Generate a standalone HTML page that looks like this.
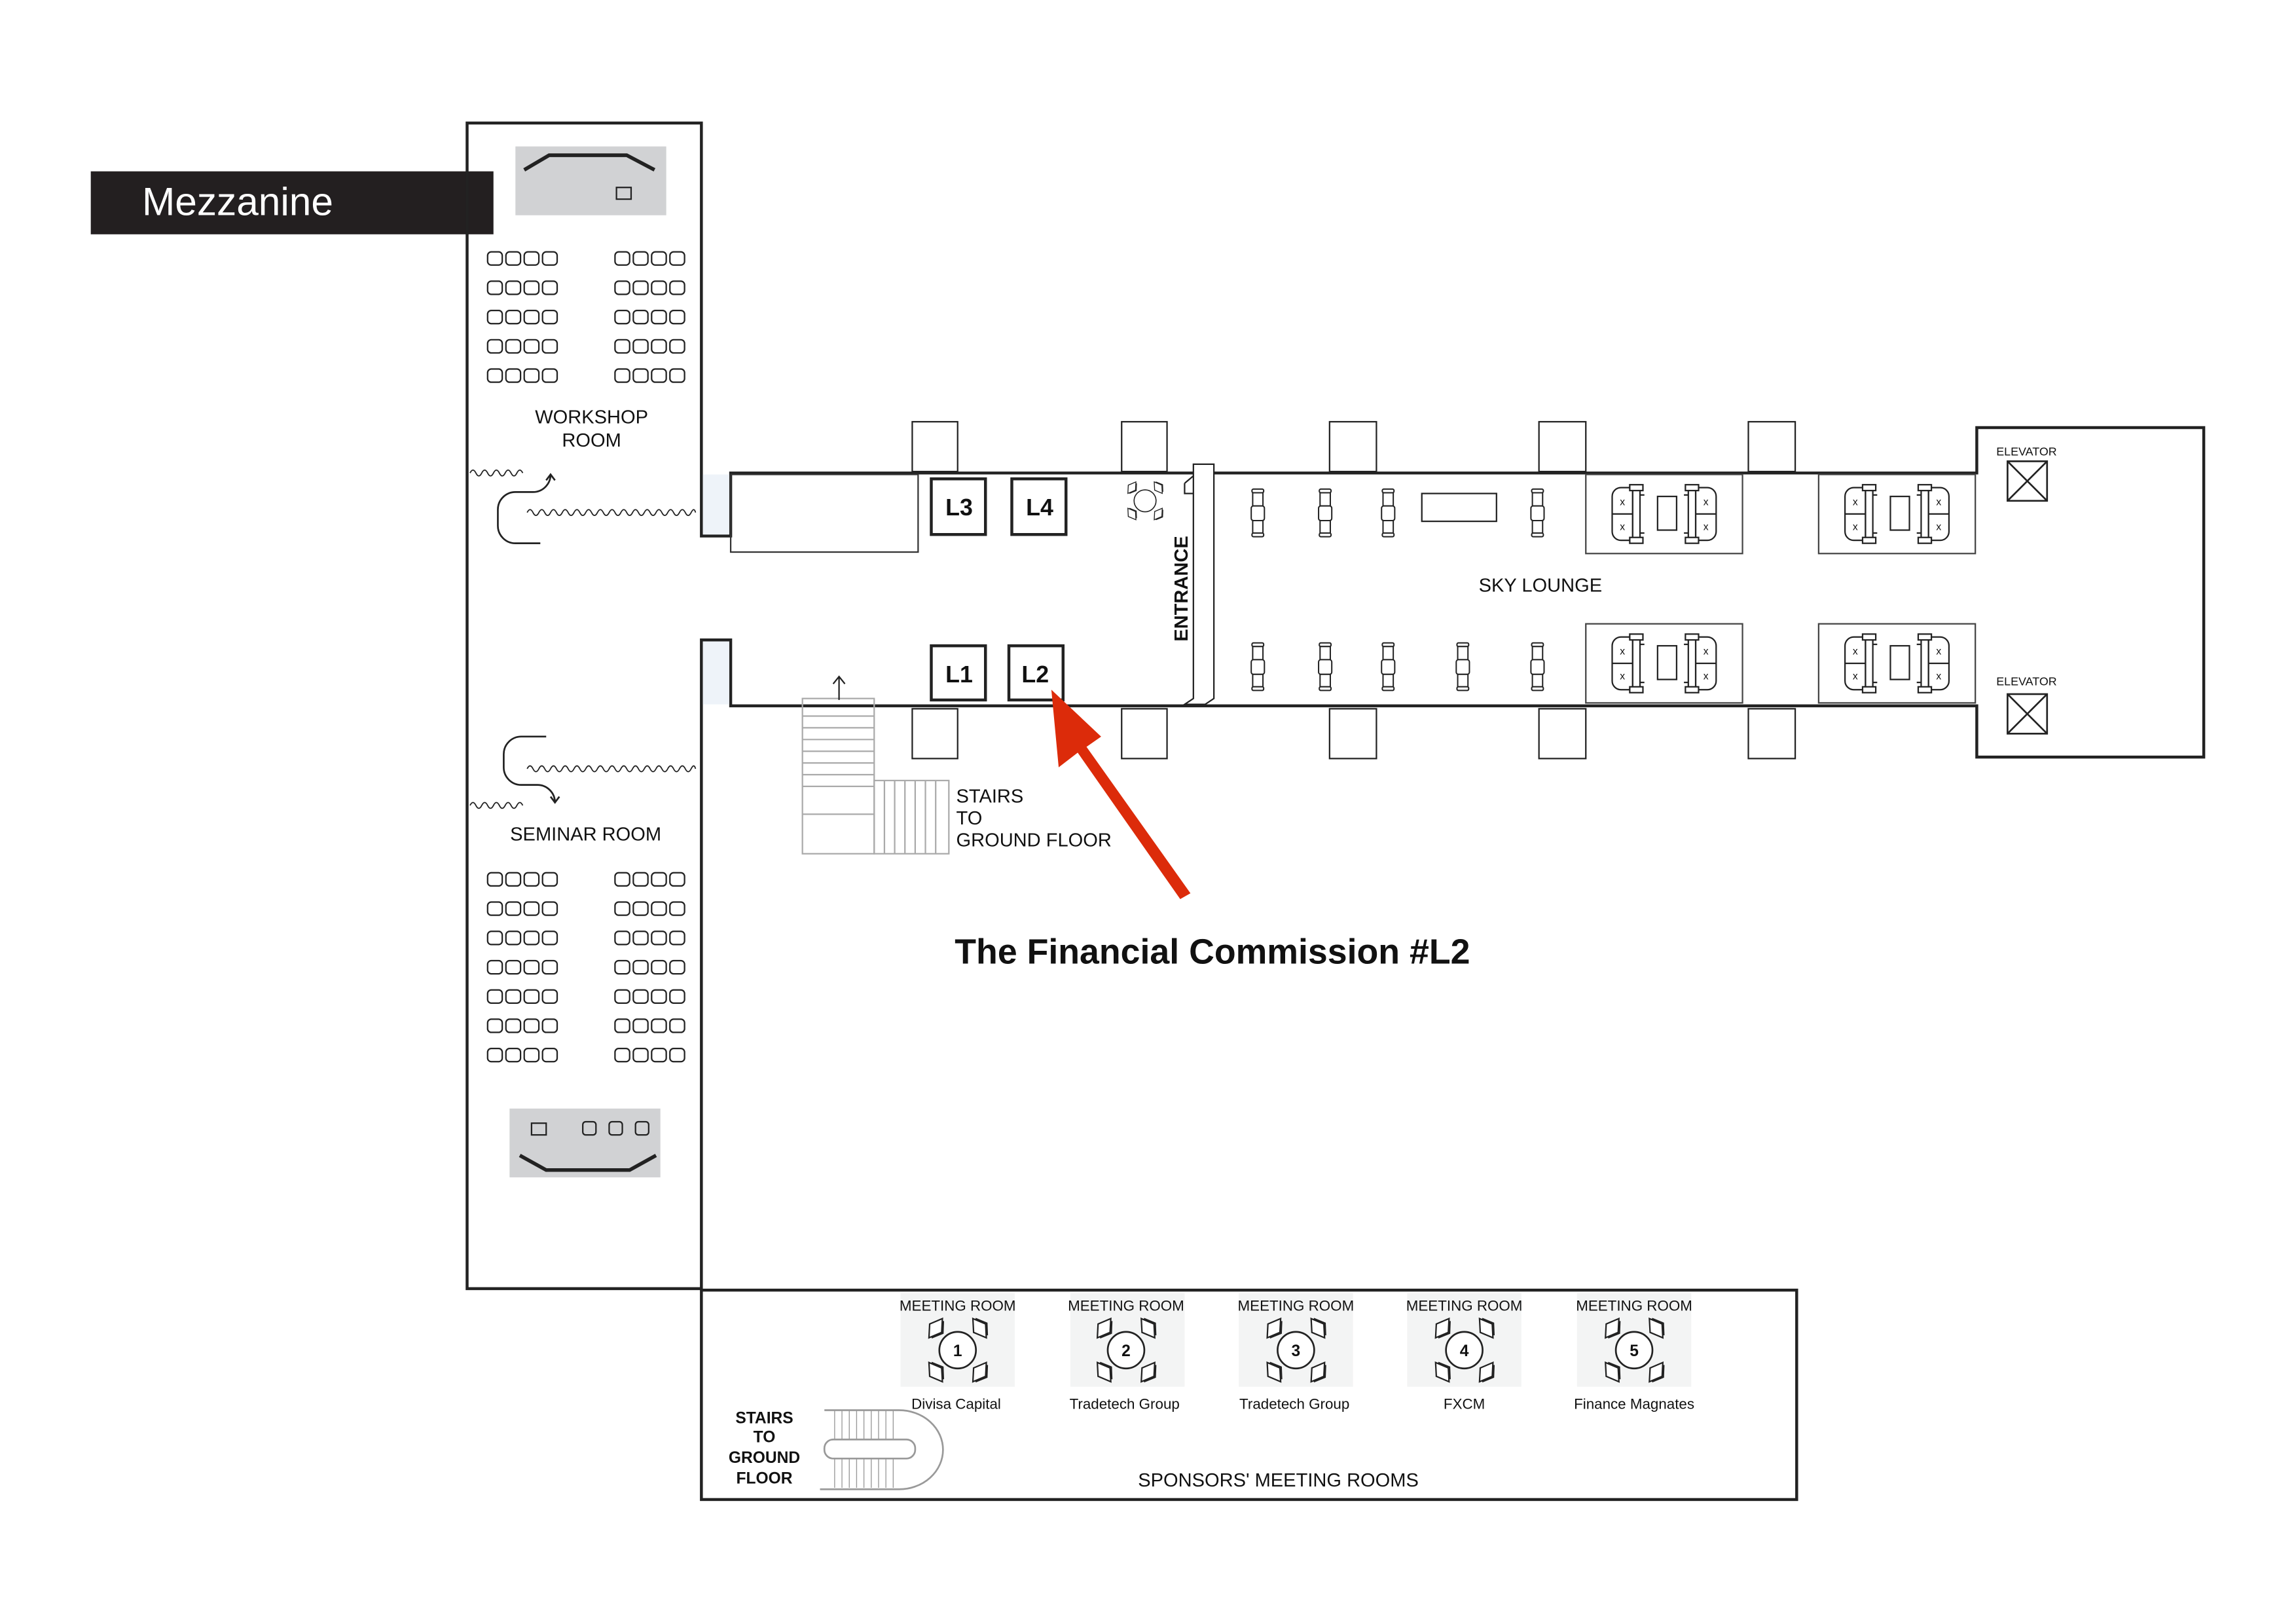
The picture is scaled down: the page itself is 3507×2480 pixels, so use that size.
<!DOCTYPE html>
<html><head><meta charset="utf-8"><style>
html,body{margin:0;padding:0;background:#fff;}
svg{display:block;}
text{font-family:"Liberation Sans",sans-serif;fill:#111;}
</style></head><body>
<svg width="3507" height="2480" viewBox="0 0 1568 1109" preserveAspectRatio="none" xmlns="http://www.w3.org/2000/svg">
<defs>
<g id="row4" fill="none" stroke="#222" stroke-width="1">
<rect x="0" y="0" width="10" height="9" rx="2.5"/><rect x="12.5" y="0" width="10" height="9" rx="2.5"/><rect x="25" y="0" width="10" height="9" rx="2.5"/><rect x="37.5" y="0" width="10" height="9" rx="2.5"/>
</g>
<g id="grid" >
<use href="#row4" x="0"/><use href="#row4" x="87"/>
</g>
<g id="lchair" fill="#fff" stroke="#222" stroke-width="0.9">
<rect x="-4" y="0" width="8" height="2.5" rx="1"/><rect x="-3.5" y="2.5" width="7" height="9"/><rect x="-4.5" y="11.5" width="9" height="10" rx="1.5"/><rect x="-3.5" y="21.5" width="7" height="8.5"/><rect x="-4" y="30" width="8" height="2.5" rx="1"/>
</g>
<g id="booth" fill="none" stroke="#222" stroke-width="1">
<rect x="0" y="0" width="107" height="54" stroke="#444"/>
<path d="M32,9 h-8 a6,6 0 0 0 -6,6 v24 a6,6 0 0 0 6,6 h8 z"/><line x1="18" y1="27" x2="32" y2="27"/>
<rect x="32" y="9" width="5" height="36" fill="#fff"/><rect x="30" y="7" width="9" height="4" fill="#fff"/><rect x="30" y="43" width="9" height="4" fill="#fff"/>
<path d="M37,14 h3 M37,40 h3"/>
<rect x="49" y="15" width="13" height="23"/>
<path d="M75,9 h8 a6,6 0 0 1 6,6 v24 a6,6 0 0 1 -6,6 h-8 z"/><line x1="75" y1="27" x2="89" y2="27"/>
<rect x="70" y="9" width="5" height="36" fill="#fff"/><rect x="68" y="7" width="9" height="4" fill="#fff"/><rect x="68" y="43" width="9" height="4" fill="#fff"/>
<path d="M67,14 h3 M67,40 h3"/>
<text x="25" y="21" font-size="7" text-anchor="middle" stroke="none">x</text><text x="25" y="38" font-size="7" text-anchor="middle" stroke="none">x</text>
<text x="82" y="21" font-size="7" text-anchor="middle" stroke="none">x</text><text x="82" y="38" font-size="7" text-anchor="middle" stroke="none">x</text>
</g>
<g id="dch" fill="#fff" stroke="#222" stroke-width="1">
<path d="M0,-8 L5,0 L0,8 L-5,0Z"/><path d="M1.5,-7 L6,0 L1.5,7" fill="none"/>
</g>
<g id="tbl">
<use href="#dch" transform="translate(-15,-15) rotate(35)"/><use href="#dch" transform="translate(15,-15) rotate(-35)"/>
<use href="#dch" transform="translate(-15,15) rotate(-35)"/><use href="#dch" transform="translate(15,15) rotate(35)"/>
<circle cx="0" cy="0" r="12.5" fill="#fff" stroke="#222" stroke-width="1.2"/>
</g>
</defs>

<!-- Mezzanine label -->
<rect x="62" y="117" width="275" height="43" fill="#231f20"/>
<text x="97" y="147" font-size="27" style="fill:#fff">Mezzanine</text>

<!-- left building -->
<path d="M479,366 H499 V323 H1350 V292 H1505 V517 H1350 V482 H499 V437 H479 V880 H319 V84 H479 Z" fill="none" stroke="#222" stroke-width="2"/>
<rect x="480" y="324" width="18" height="41" fill="#eef3f9"/>
<rect x="480" y="438" width="18" height="43" fill="#eef3f9"/>

<!-- workshop projector -->
<rect x="352" y="100" width="103" height="47" fill="#d1d2d4"/>
<path d="M358,116 L375,106 H428 L447,116" fill="none" stroke="#222" stroke-width="2.5"/>
<rect x="421" y="128" width="10" height="8" fill="none" stroke="#222"/>
<use href="#grid" x="333" y="172"/><use href="#grid" x="333" y="192"/><use href="#grid" x="333" y="212"/><use href="#grid" x="333" y="232"/><use href="#grid" x="333" y="252"/>
<text x="404" y="289" font-size="13" text-anchor="middle">WORKSHOP</text>
<text x="404" y="305" font-size="13" text-anchor="middle">ROOM</text>

<!-- doors workshop -->
<path d="M321,323 q2,-4 4,0 t4,0 t4,0 t4,0 t4,0 t4,0 t4,0 t4,0 t4,0" fill="none" stroke="#222" stroke-width="0.8"/>
<path d="M360,350 q2,-4 4,0 t4,0 t4,0 t4,0 t4,0 t4,0 t4,0 t4,0 t4,0 t4,0 t4,0 t4,0 t4,0 t4,0 t4,0 t4,0 t4,0 t4,0 t4,0 t4,0 t4,0 t4,0 t4,0 t4,0 t4,0 t4,0 t4,0 t4,0 t3,0" fill="none" stroke="#222" stroke-width="0.8"/>
<path d="M369,371 H352 a12,12 0 0 1 -12,-12 V348 a12,12 0 0 1 12,-12 H364 a12,12 0 0 0 12,-12 V324 M373,328 l3,-4 l3,4" fill="none" stroke="#222" stroke-width="1.2"/>

<!-- seminar doors -->
<path d="M321,550 q2,-4 4,0 t4,0 t4,0 t4,0 t4,0 t4,0 t4,0 t4,0 t4,0" fill="none" stroke="#222" stroke-width="0.8"/>
<path d="M360,525 q2,-4 4,0 t4,0 t4,0 t4,0 t4,0 t4,0 t4,0 t4,0 t4,0 t4,0 t4,0 t4,0 t4,0 t4,0 t4,0 t4,0 t4,0 t4,0 t4,0 t4,0 t4,0 t4,0 t4,0 t4,0 t4,0 t4,0 t4,0 t4,0 t3,0" fill="none" stroke="#222" stroke-width="0.8"/>
<path d="M373,503 H356 a12,12 0 0 0 -12,12 V524 a12,12 0 0 0 12,12 H367 a12,12 0 0 1 12,12 M376,544 l3,4 l3,-4" fill="none" stroke="#222" stroke-width="1.2"/>
<text x="400" y="574" font-size="13" text-anchor="middle">SEMINAR ROOM</text>
<use href="#grid" x="333" y="596"/><use href="#grid" x="333" y="616"/><use href="#grid" x="333" y="636"/><use href="#grid" x="333" y="656"/><use href="#grid" x="333" y="676"/><use href="#grid" x="333" y="696"/><use href="#grid" x="333" y="716"/>
<rect x="348" y="757" width="103" height="47" fill="#d1d2d4"/>
<path d="M355,789 L373,799 H430 L448,789" fill="none" stroke="#222" stroke-width="2.5"/>
<rect x="363" y="767" width="10" height="8" fill="none" stroke="#222"/>
<rect x="398" y="766" width="9" height="9" rx="2" fill="none" stroke="#222"/><rect x="416" y="766" width="9" height="9" rx="2" fill="none" stroke="#222"/><rect x="434" y="766" width="9" height="9" rx="2" fill="none" stroke="#222"/>

<!-- corridor -->
<rect x="499" y="324" width="128" height="53" fill="none" stroke="#333" stroke-width="1"/>
<g fill="none" stroke="#222" stroke-width="2">
<rect x="636" y="327" width="37" height="38"/><rect x="691" y="327" width="37" height="38"/>
<rect x="636" y="441" width="37" height="37"/><rect x="689" y="441" width="37" height="37"/>
</g>
<g font-size="16" font-weight="bold" text-anchor="middle">
<text x="655" y="352">L3</text><text x="710" y="352">L4</text><text x="655" y="466">L1</text><text x="707" y="466">L2</text>
</g>
<g fill="#fff" stroke="#222" stroke-width="1">
<rect x="623" y="288" width="31" height="34"/><rect x="766" y="288" width="31" height="34"/><rect x="908" y="288" width="32" height="34"/><rect x="1051" y="288" width="32" height="34"/><rect x="1194" y="288" width="32" height="34"/>
<rect x="623" y="484" width="31" height="34"/><rect x="766" y="484" width="31" height="34"/><rect x="908" y="484" width="32" height="34"/><rect x="1051" y="484" width="32" height="34"/><rect x="1194" y="484" width="32" height="34"/>
</g>
<g transform="translate(782,342) scale(0.6)"><use href="#tbl"/></g>
<!-- entrance -->
<path d="M815,317 H829 V477 L823,481 H809 L815,477 Z M815,317 V477 M809,330 L815,325 M809,330 V337 L815,337" fill="#fff" stroke="#222" stroke-width="1"/>
<text x="811" y="402" font-size="13" text-anchor="middle" transform="rotate(-90 811 402)" font-weight="bold">ENTRANCE</text>

<!-- lounge -->
<use href="#lchair" x="859" y="334"/><use href="#lchair" x="905" y="334"/><use href="#lchair" x="948" y="334"/><use href="#lchair" x="1050" y="334"/>
<use href="#lchair" x="859" y="439"/><use href="#lchair" x="905" y="439"/><use href="#lchair" x="948" y="439"/><use href="#lchair" x="999" y="439"/><use href="#lchair" x="1050" y="439"/>
<rect x="971" y="337" width="51" height="19" fill="none" stroke="#222" stroke-width="1"/>
<use href="#booth" x="1083" y="324"/><use href="#booth" x="1242" y="324"/><use href="#booth" x="1083" y="426"/><use href="#booth" x="1242" y="426"/>
<text x="1052" y="404" font-size="13" text-anchor="middle">SKY LOUNGE</text>
<text x="1384" y="311" font-size="8" text-anchor="middle">ELEVATOR</text>
<text x="1384" y="468" font-size="8" text-anchor="middle">ELEVATOR</text>
<g fill="none" stroke="#222" stroke-width="1.2">
<rect x="1371" y="315" width="27" height="27"/><path d="M1371,315 L1398,342 M1398,315 L1371,342"/>
<rect x="1371" y="474" width="27" height="27"/><path d="M1371,474 L1398,501 M1398,474 L1371,501"/>
</g>

<!-- stairs -->
<g fill="none" stroke="#aaa" stroke-width="1">
<rect x="548" y="477" width="49" height="106"/>
<path d="M548,489 H597 M548,497 H597 M548,505 H597 M548,513 H597 M548,521 H597 M548,529 H597 M548,537 H597 M548,556 H597"/>
<rect x="597" y="533" width="51" height="50"/>
<path d="M604,533 V583 M611,533 V583 M618,533 V583 M625,533 V583 M632,533 V583 M639,533 V583"/>
</g>
<path d="M573,478 V462 M569,467 L573,462 L577,467" fill="none" stroke="#222" stroke-width="1"/>
<text x="653" y="548" font-size="13">STAIRS</text>
<text x="653" y="563" font-size="13">TO</text>
<text x="653" y="578" font-size="13">GROUND FLOOR</text>

<!-- red arrow -->
<path d="M718,471 L752,503 L742,510 L813,610 L806,614 L736,514 L723,524 Z" fill="#dc2b0a"/>
<text x="652" y="658" font-size="24" font-weight="bold">The Financial Commission #L2</text>

<!-- bottom building -->
<rect x="479" y="881" width="748" height="143" fill="none" stroke="#222" stroke-width="2"/>
<g fill="#f3f4f4">
<rect x="615" y="883" width="78" height="64"/><rect x="731" y="883" width="78" height="64"/><rect x="846" y="883" width="78" height="64"/><rect x="961" y="883" width="78" height="64"/><rect x="1077" y="883" width="78" height="64"/>
</g>
<g font-size="10" text-anchor="middle">
<text x="654" y="895">MEETING ROOM</text><text x="769" y="895">MEETING ROOM</text><text x="885" y="895">MEETING ROOM</text><text x="1000" y="895">MEETING ROOM</text><text x="1116" y="895">MEETING ROOM</text>
<text x="653" y="962">Divisa Capital</text><text x="768" y="962">Tradetech Group</text><text x="884" y="962">Tradetech Group</text><text x="1000" y="962">FXCM</text><text x="1116" y="962">Finance Magnates</text>
</g>
<g transform="translate(654,922)"><use href="#tbl"/><text x="0" y="4" font-size="11" font-weight="bold" text-anchor="middle">1</text></g>
<g transform="translate(769,922)"><use href="#tbl"/><text x="0" y="4" font-size="11" font-weight="bold" text-anchor="middle">2</text></g>
<g transform="translate(885,922)"><use href="#tbl"/><text x="0" y="4" font-size="11" font-weight="bold" text-anchor="middle">3</text></g>
<g transform="translate(1000,922)"><use href="#tbl"/><text x="0" y="4" font-size="11" font-weight="bold" text-anchor="middle">4</text></g>
<g transform="translate(1116,922)"><use href="#tbl"/><text x="0" y="4" font-size="11" font-weight="bold" text-anchor="middle">5</text></g>
<g font-size="11" font-weight="bold" text-anchor="middle">
<text x="522" y="972">STAIRS</text><text x="522" y="985">TO</text><text x="522" y="999">GROUND</text><text x="522" y="1013">FLOOR</text>
</g>
<g fill="none" stroke="#999" stroke-width="1.2">
<path d="M563,963 H614 a30,27 0 0 1 0,54 H560"/>
<rect x="563" y="983" width="62" height="13" rx="6"/>
<path d="M570,963 V983 M575,963 V983 M580,963 V983 M585,963 V983 M590,963 V983 M595,963 V983 M600,963 V983 M605,963 V983 M610,963 V983 M570,996 V1016 M575,996 V1016 M580,996 V1016 M585,996 V1016 M590,996 V1016 M595,996 V1016 M600,996 V1016 M605,996 V1016 M610,996 V1016" stroke-width="0.6"/>
</g>
<text x="873" y="1015" font-size="13" text-anchor="middle">SPONSORS' MEETING ROOMS</text>
</svg>
</body></html>
